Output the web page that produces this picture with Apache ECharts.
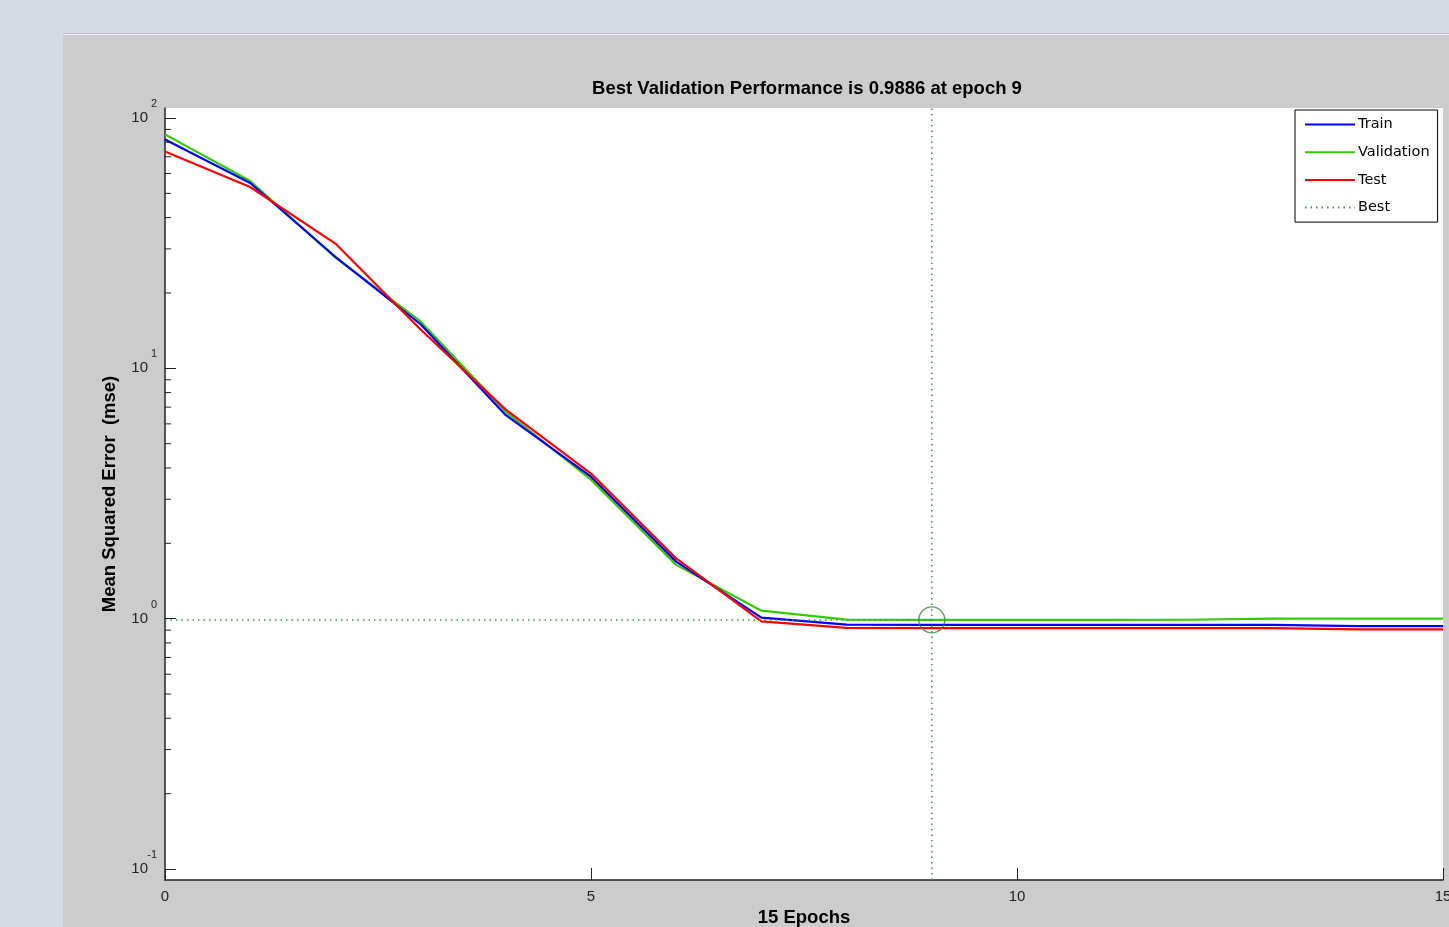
<!DOCTYPE html>
<html>
<head>
<meta charset="utf-8">
<title>Best Validation Performance</title>
<script src="https://cdn.jsdelivr.net/npm/echarts@6/dist/echarts.min.js"></script>
<style>
  html, body { margin: 0; padding: 0; width: 1449px; height: 927px; overflow: hidden; background: #d5dae3; }
  #panel {
    position: absolute; left: 63px; top: 35px; width: 1386px; height: 892px;
    background: #cccccc; box-shadow: 0 -1px 0 #f0f0f0, 0 -2px 0 #bfbfc6;
  }
</style>
</head>
<body>
<div id="panel"></div>
<script>
// epochs on the x axis
const epochs = [0, 1, 2, 3, 4, 5, 6, 7, 8, 9, 10, 11, 12, 13, 14, 15];
// mean squared error per epoch
const trainPerf = [82, 55, 27.9, 15.0, 6.5, 3.69, 1.69, 1.01, 0.946, 0.945, 0.945, 0.945, 0.945, 0.945, 0.934, 0.934];
const valPerf = [86, 56, 27.7, 15.4, 6.7, 3.59, 1.64, 1.076, 0.991, 0.9886, 0.989, 0.989, 0.99, 1.0, 1.0, 1.0];
const testPerf = [73.5, 53, 31.5, 14.3, 6.84, 3.80, 1.74, 0.975, 0.918, 0.917, 0.917, 0.917, 0.917, 0.917, 0.907, 0.907];
// best validation point
const bestEpoch = 9;
const bestPerf = 0.9886;
// tick values
const xTicks = [0, 5, 10, 15];
const yMajorTicks = [0.1, 1, 10, 100];
const yMinorTicks = [0.2, 0.3, 0.4, 0.5, 0.6, 0.7, 0.8, 0.9,
  2, 3, 4, 5, 6, 7, 8, 9, 20, 30, 40, 50, 60, 70, 80, 90];

const FONT = '"Liberation Sans", Arial, sans-serif';
const WIDE = '"DejaVu Sans", sans-serif';
const DOT = { color: '#2f9f2f', width: 1.5, type: [1.5, 4] };
const chart = echarts.init(document.getElementById('panel'), null, { renderer: 'canvas' });

function pairs(ys) {
  return epochs.map((x, i) => [x, ys[i]]);
}

// log y axis in the data grid; the second copy only carries the exponents
function logAxis(extra) {
  return Object.assign({
    gridIndex: 1,
    type: 'log',
    logBase: 10,
    position: 'left',
    offset: 0,
    min: yMajorTicks[0],
    max: yMajorTicks[yMajorTicks.length - 1],
    interval: 1,
    splitNumber: 3,
    axisLine: { show: false },
    splitLine: { show: false }
  }, extra);
}

const option = {
  animation: false,
  textStyle: { fontFamily: FONT },
  title: {
    text: 'Best Validation Performance is ' + bestPerf + ' at epoch ' + bestEpoch,
    left: 739,
    top: 39,
    textAlign: 'center',
    textStyle: { fontFamily: FONT, fontSize: 18.5, fontWeight: 'bold', color: '#000' }
  },
  legend: {
    data: ['Train', 'Validation', 'Test', 'Best'],
    orient: 'vertical',
    left: 1232,
    top: 75,
    padding: [7, 8, 7, 9],
    itemWidth: 50,
    itemHeight: 14,
    itemGap: 12.7,
    itemStyle: { opacity: 0 },
    backgroundColor: '#fff',
    borderColor: '#000',
    borderWidth: 1,
    borderRadius: 0,
    textStyle: { fontFamily: WIDE, fontSize: 14.5, color: '#000', padding: [0, 0, 0, -2] }
  },
  grid: [
    // outer box: white area and axis lines
    { left: 102, top: 73, right: 6, bottom: 47, outerBoundsMode: 'none', containLabel: false,
      show: true, backgroundColor: '#fff', borderWidth: 0 },
    // data area: 10^-1 .. 10^2
    { left: 102, top: 83, right: 6, bottom: 58, outerBoundsMode: 'none', containLabel: false }
  ],
  xAxis: [{
    gridIndex: 0,
    type: 'value',
    min: 0,
    max: 15,
    interval: 5,
    name: epochs[epochs.length - 1] + ' Epochs',
    nameLocation: 'middle',
    nameGap: 27,
    nameTextStyle: { fontFamily: FONT, fontSize: 18.5, fontWeight: 'bold', color: '#000' },
    axisLine: { lineStyle: { color: '#222', width: 1.5 } },
    axisTick: { inside: true, length: 12, lineStyle: { color: '#222' } },
    axisLabel: {
      fontFamily: FONT, fontSize: 15, color: '#222', margin: 9,
      formatter: v => xTicks.indexOf(v) >= 0 ? String(v) : ''
    },
    splitLine: { show: false }
  }, {
    gridIndex: 1,
    type: 'value',
    min: 0,
    max: 15,
    show: false
  }],
  yAxis: [{
    gridIndex: 0,
    type: 'value',
    min: 0,
    max: 1,
    name: 'Mean Squared Error  (mse)',
    nameLocation: 'middle',
    nameGap: 46,
    nameRotate: 90,
    nameTextStyle: { fontFamily: FONT, fontSize: 18.5, fontWeight: 'bold', color: '#000' },
    axisLine: { show: true, lineStyle: { color: '#222', width: 1.5 } },
    axisTick: { show: false },
    axisLabel: { show: false },
    splitLine: { show: false }
  }, logAxis({
    axisTick: { show: true, inside: true, length: 11, lineStyle: { color: '#222' } },
    axisLabel: {
      margin: 17,
      fontFamily: FONT, fontSize: 15, color: '#222',
      formatter: () => '10'
    }
  }), logAxis({
    axisTick: { show: false },
    axisLabel: {
      margin: 8,
      fontFamily: FONT, fontSize: 11, color: '#222',
      lineHeight: 14,
      // two blank lines below lift the exponent above the "10"
      formatter: v => Math.round(Math.log10(v)) + '\n \n '
    }
  })],
  series: [{
    name: 'Train',
    type: 'line',
    xAxisIndex: 1, yAxisIndex: 1,
    data: pairs(trainPerf),
    symbol: 'none',
    color: '#0000ff',
    lineStyle: { color: '#0000ff', width: 2.2 },
    z: 3
  }, {
    name: 'Validation',
    type: 'line',
    xAxisIndex: 1, yAxisIndex: 1,
    data: pairs(valPerf),
    symbol: 'none',
    color: '#33cc00',
    lineStyle: { color: '#33cc00', width: 2.2 },
    z: 2
  }, {
    name: 'Test',
    type: 'line',
    xAxisIndex: 1, yAxisIndex: 1,
    data: pairs(testPerf),
    symbol: 'none',
    color: '#ff0000',
    lineStyle: { color: '#ff0000', width: 2.2 },
    z: 4
  }, {
    // horizontal dotted line to the best validation value
    name: 'Best',
    type: 'line',
    xAxisIndex: 1, yAxisIndex: 1,
    data: [[0, bestPerf], [bestEpoch, bestPerf]],
    symbol: 'none',
    color: DOT.color,
    lineStyle: DOT,
    z: 6
  }, {
    // vertical dotted line at the best epoch, full height of the box
    name: 'BestEpoch',
    type: 'line',
    xAxisIndex: 0, yAxisIndex: 0,
    data: [[bestEpoch, 0], [bestEpoch, 1]],
    symbol: 'none',
    lineStyle: DOT,
    z: 6
  }, {
    // circle round the best point
    name: 'BestPoint',
    type: 'scatter',
    xAxisIndex: 1, yAxisIndex: 1,
    data: [[bestEpoch, bestPerf]],
    symbol: 'circle',
    symbolSize: 26,
    itemStyle: { color: 'rgba(0,0,0,0)', borderColor: '#2f8a2f', borderWidth: 1.4 },
    silent: true,
    z: 7
  }, {
    // log minor ticks on the y axis
    name: 'minorTicks',
    type: 'custom',
    xAxisIndex: 1, yAxisIndex: 1,
    data: yMinorTicks.map(v => [0, v]),
    silent: true,
    z: 8,
    renderItem: function (params, api) {
      const p = api.coord([api.value(0), api.value(1)]);
      return {
        type: 'line',
        shape: { x1: p[0], y1: p[1], x2: p[0] + 6, y2: p[1] },
        style: { stroke: '#222', lineWidth: 1 }
      };
    }
  }]
};

chart.setOption(option);
</script>
</body>
</html>
